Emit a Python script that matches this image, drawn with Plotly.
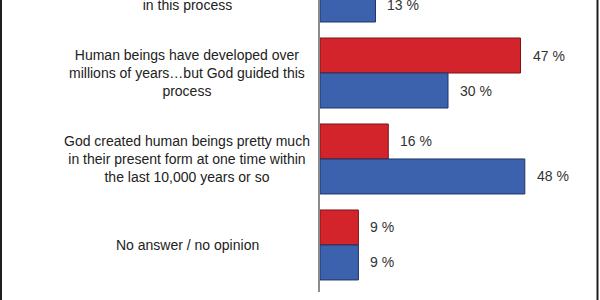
import plotly.graph_objects as go

categories = [
    "Human beings have developed over<br>millions of years\u2026but God had no part<br>in this process",
    "Human beings have developed over<br>millions of years\u2026but God guided this<br>process",
    "God created human beings pretty much<br>in their present form at one time within<br>the last 10,000 years or so",
    "No answer / no opinion",
]
red_values = [28, 47, 16, 9]
blue_values = [13, 30, 48, 9]
red_labels = ["28 %", "47 %", "16 %", "9 %"]
blue_labels = ["13 %", "30 %", "48 %", "9 %"]

RED = "#d3242b"
BLUE = "#3c61ad"
positions = list(range(len(categories)))

BARGAP = 0.186
Y_TOP = 0.151
Y_BOT = 3.547
X_MAX = 60
ML, MR, MT, MB = 320, 24, 0, 8
W, H = 600, 300
plot_w = W - ML - MR

fig = go.Figure()
fig.add_trace(go.Bar(y=positions, x=red_values, orientation="h",
                     marker=dict(color=RED, line=dict(color="#7a1519", width=1)),
                     hoverinfo="skip"))
fig.add_trace(go.Bar(y=positions, x=blue_values, orientation="h",
                     marker=dict(color=BLUE, line=dict(color="#1f3466", width=1)),
                     hoverinfo="skip"))

bar_w = (1 - BARGAP) / 2
font_main = dict(family="Liberation Sans, Arial, sans-serif", size=14, color="#222222")

annotations = []
for i, p in enumerate(positions):
    annotations.append(dict(x=red_values[i], y=p - bar_w / 2, xref="x", yref="y",
                            text=red_labels[i], showarrow=False, xanchor="left",
                            xshift=10, font=dict(font_main, color="#333333")))
    annotations.append(dict(x=blue_values[i], y=p + bar_w / 2, xref="x", yref="y",
                            text=blue_labels[i], showarrow=False, xanchor="left",
                            xshift=10, font=dict(font_main, color="#333333")))


def paper_y(v):
    return (Y_BOT - v) / (Y_BOT - Y_TOP)


label_center_px = 187
for i, p in enumerate(positions):
    annotations.append(dict(x=(label_center_px - ML) / plot_w, y=paper_y(p),
                            xref="paper", yref="paper", text=categories[i],
                            showarrow=False, xanchor="center", yanchor="middle",
                            align="center", font=font_main))

shapes = [
    dict(type="line", xref="paper", yref="paper",
         x0=(1 - ML) / plot_w, x1=(1 - ML) / plot_w, y0=-0.2, y1=1.2,
         line=dict(color="#1e1e1e", width=2)),
    dict(type="line", xref="paper", yref="paper",
         x0=(597.5 - ML) / plot_w, x1=(597.5 - ML) / plot_w, y0=-0.2, y1=1.2,
         line=dict(color="#1e1e1e", width=2)),
]

fig.update_layout(
    width=W, height=H,
    margin=dict(l=ML, r=MR, t=MT, b=MB),
    barmode="group", bargap=BARGAP, bargroupgap=0,
    plot_bgcolor="white", paper_bgcolor="white",
    showlegend=False,
    xaxis=dict(range=[0, X_MAX], showgrid=False, zeroline=False,
               showticklabels=False, showline=False, ticks=""),
    yaxis=dict(range=[Y_BOT, Y_TOP], showgrid=False, zeroline=False,
               showticklabels=False, showline=True, linecolor="#8c8c8c",
               linewidth=1.5, ticks=""),
    annotations=annotations,
    shapes=shapes,
)

fig.write_html("out.html")
